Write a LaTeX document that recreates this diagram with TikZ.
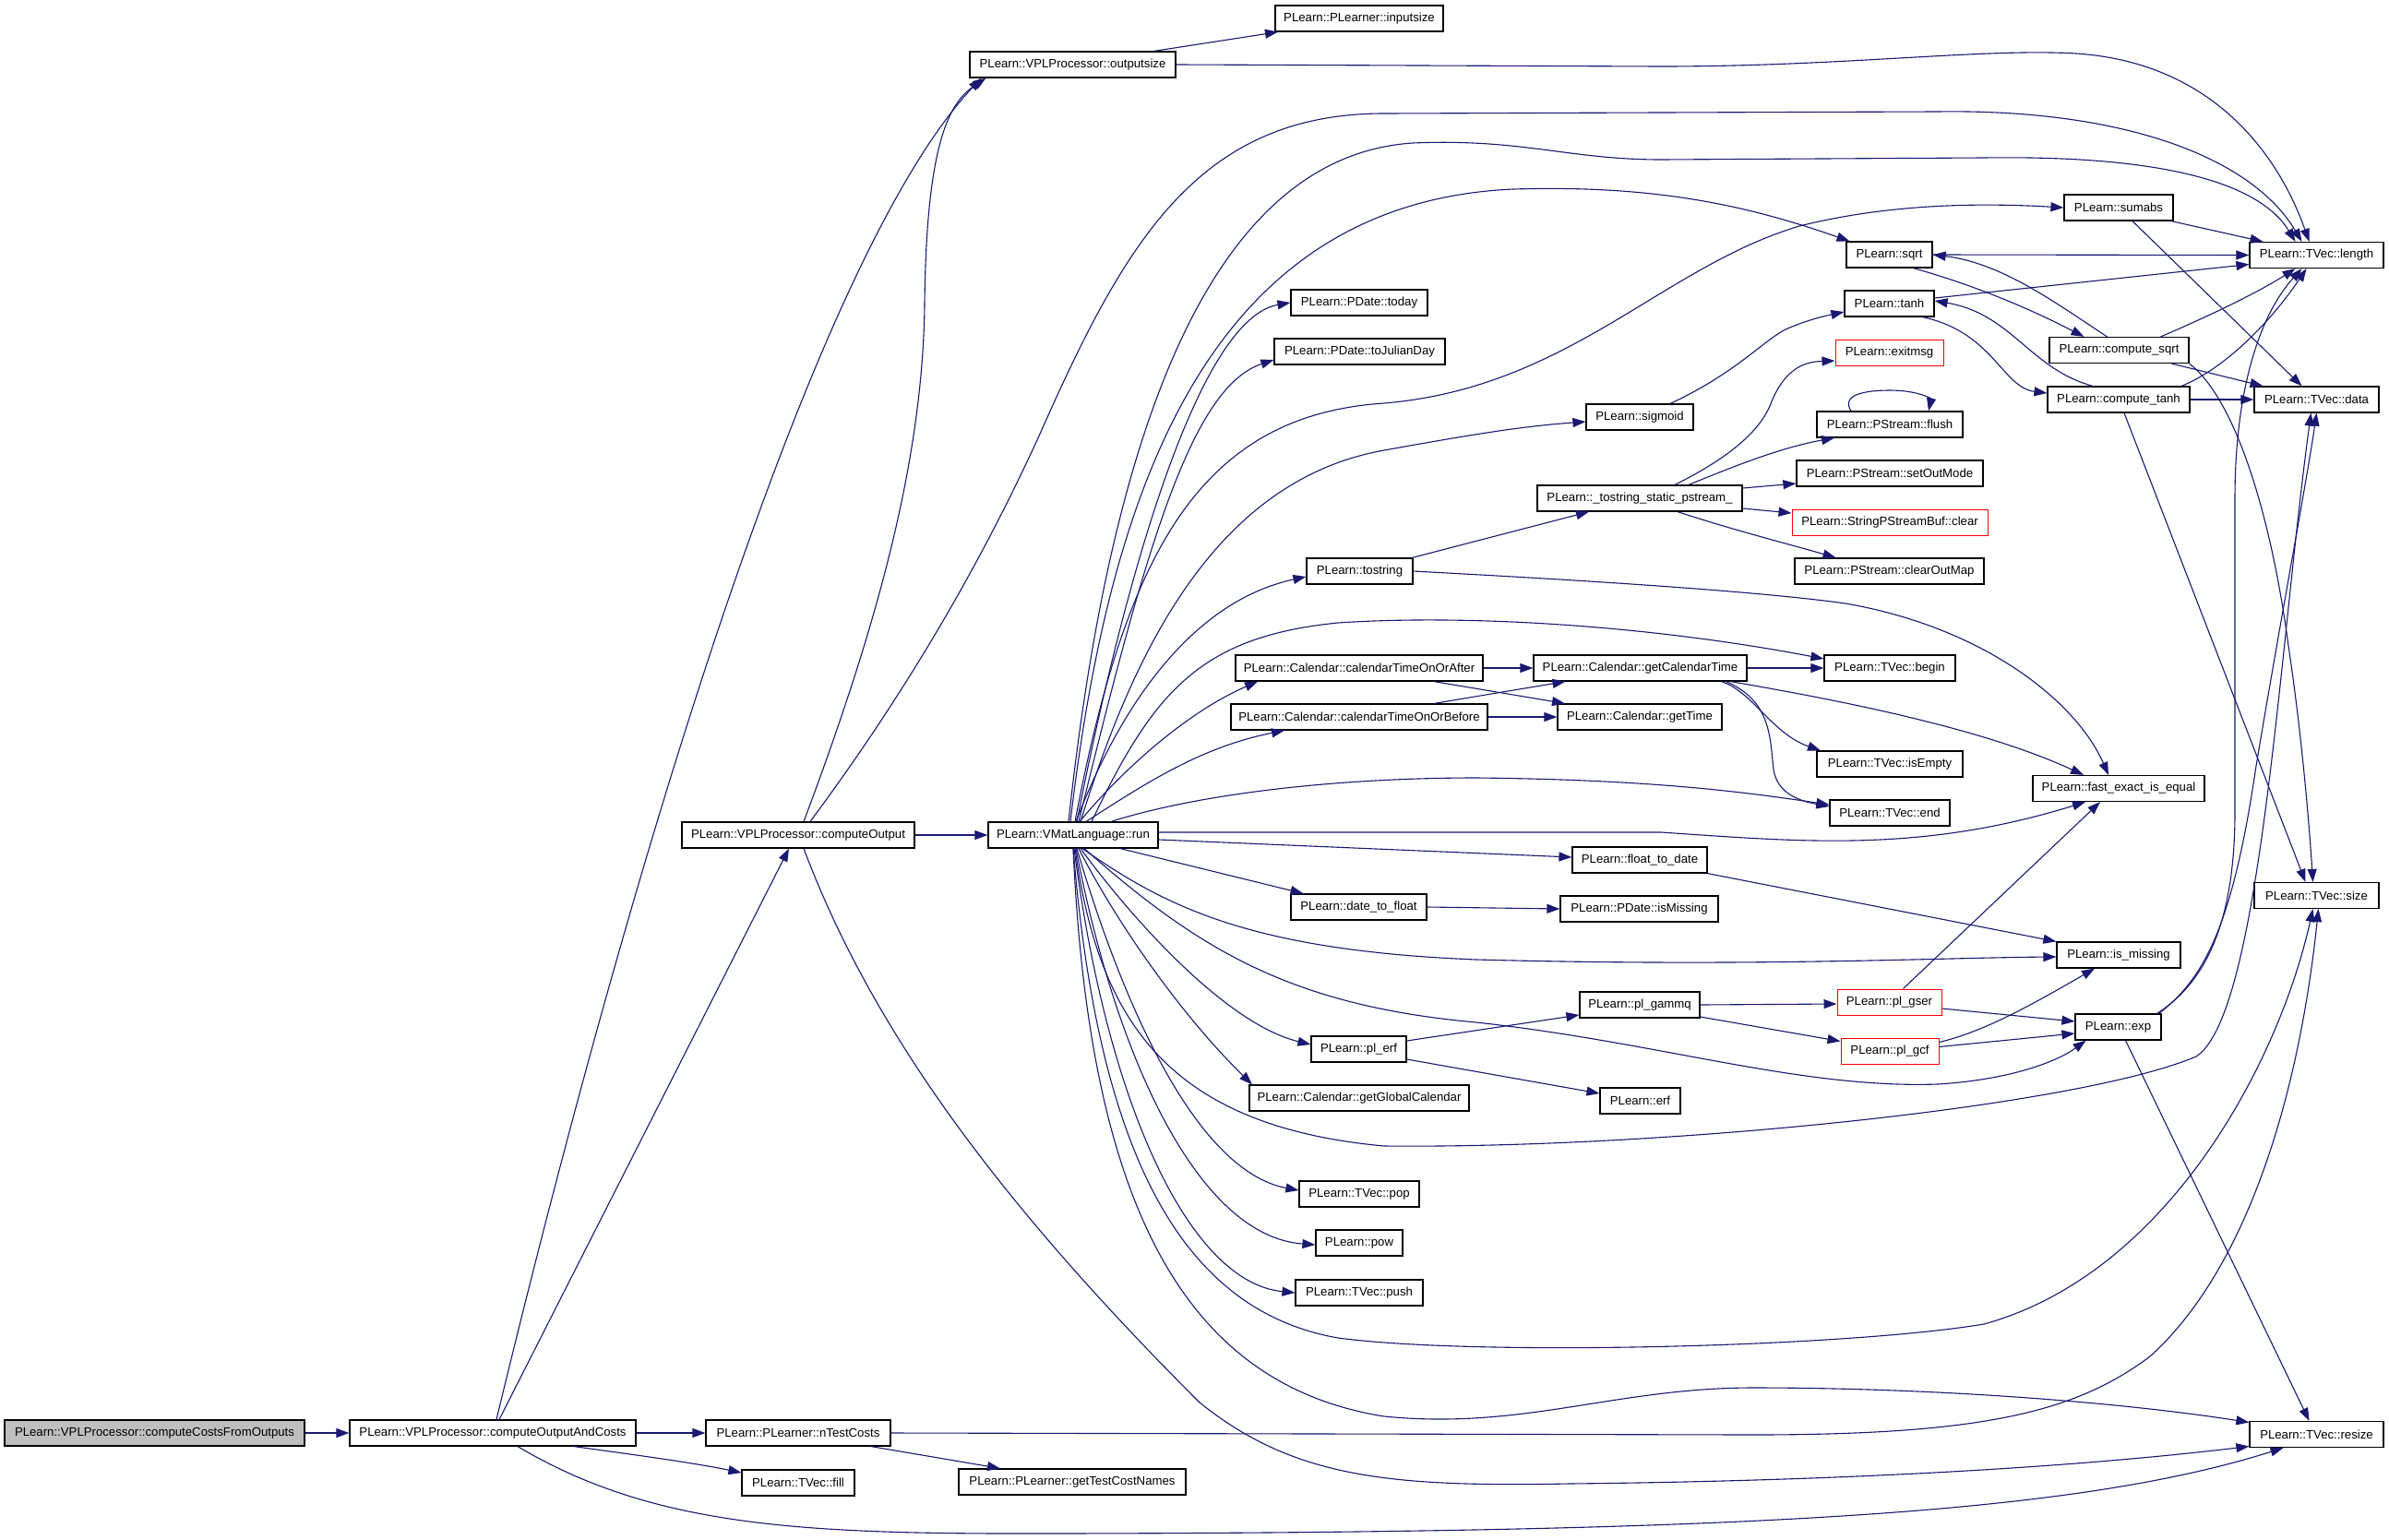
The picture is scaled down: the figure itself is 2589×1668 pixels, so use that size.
\documentclass[tikz,border=0pt]{standalone}
\usepackage{fontspec}
\setmainfont{Liberation Sans}
\usetikzlibrary{arrows.meta}
\definecolor{edgec}{RGB}{25,25,112}
\definecolor{rootgray}{RGB}{191,191,191}
\begin{document}
\begin{tikzpicture}[x=1pt,y=-1pt,
  box/.style={draw=black, line width=1.2pt, fill=white, minimum height=28pt, inner sep=0pt,
    font=\fontsize{13.2pt}{15pt}\selectfont},
  redbox/.style={box, draw=red, line width=1pt},
  edge/.style={draw=edgec, line width=1.1pt, -{Triangle[length=14pt,width=10pt]}}]
\fill[white] (0,0) rectangle (2589,1668);
\useasboundingbox (0,0) rectangle (2589,1668);
% nodes
\node[box,fill=rootgray,minimum width=325pt] (cCFO) at (167.5,1553) {PLearn::VPLProcessor::computeCostsFromOutputs};
\node[box,minimum width=310pt] (cOAC) at (534,1553) {PLearn::VPLProcessor::computeOutputAndCosts};
\node[box,minimum width=200pt] (nTC) at (865,1553) {PLearn::PLearner::nTestCosts};
\node[box,minimum width=122pt] (tfill) at (865,1607) {PLearn::TVec::fill};
\node[box,minimum width=246pt] (gTCN) at (1162,1606) {PLearn::PLearner::getTestCostNames};
\node[box,minimum width=252pt] (cO) at (865,905) {PLearn::VPLProcessor::computeOutput};
\node[box,minimum width=223pt] (osz) at (1162.5,70) {PLearn::VPLProcessor::outputsize};
\node[box,minimum width=182pt] (isz) at (1473,20) {PLearn::PLearner::inputsize};
\node[box,minimum width=184pt] (run) at (1163,905) {PLearn::VMatLanguage::run};
\node[box,minimum width=148pt] (today) at (1473,328) {PLearn::PDate::today};
\node[box,minimum width=185pt] (julian) at (1473.5,381) {PLearn::PDate::toJulianDay};
\node[box,minimum width=116pt] (sigm) at (1777,452) {PLearn::sigmoid};
\node[box,minimum width=222pt] (tss) at (1777,540) {PLearn::\_tostring\_static\_pstream\_};
\node[box,minimum width=115pt] (tostr) at (1473.5,619) {PLearn::tostring};
\node[box,minimum width=268pt] (calA) at (1473,724) {PLearn::Calendar::calendarTimeOnOrAfter};
\node[box,minimum width=278pt] (calB) at (1473,777) {PLearn::Calendar::calendarTimeOnOrBefore};
\node[box,minimum width=231pt] (gct) at (1777.5,724) {PLearn::Calendar::getCalendarTime};
\node[box,minimum width=178pt] (gtime) at (1777,777) {PLearn::Calendar::getTime};
\node[box,minimum width=142pt] (tbegin) at (2048,724) {PLearn::TVec::begin};
\node[box,minimum width=158pt] (tempty) at (2048,828) {PLearn::TVec::isEmpty};
\node[box,minimum width=130pt] (tend) at (2048,881) {PLearn::TVec::end};
\node[box,minimum width=186pt] (feq) at (2296,854.5) {PLearn::fast\_exact\_is\_equal};
\node[box,minimum width=146pt] (f2d) at (1777,932) {PLearn::float\_to\_date};
\node[box,minimum width=147pt] (d2f) at (1472.5,983) {PLearn::date\_to\_float};
\node[box,minimum width=171pt] (pdmiss) at (1776.5,985) {PLearn::PDate::isMissing};
\node[box,minimum width=134pt] (ismiss) at (2296,1035) {PLearn::is\_missing};
\node[box,minimum width=130pt] (gammq) at (1777,1089) {PLearn::pl\_gammq};
\node[redbox,minimum width=113pt] (gser) at (2047.5,1086) {PLearn::pl\_gser};
\node[redbox,minimum width=106pt] (gcf) at (2048,1139.5) {PLearn::pl\_gcf};
\node[box,minimum width=93pt] (pexp) at (2295.5,1113) {PLearn::exp};
\node[box,minimum width=103pt] (perf) at (1472.5,1137) {PLearn::pl\_erf};
\node[box,minimum width=87pt] (erf) at (1777.5,1193) {PLearn::erf};
\node[box,minimum width=238pt] (ggc) at (1473,1190) {PLearn::Calendar::getGlobalCalendar};
\node[box,minimum width=130pt] (tpop) at (1473,1294) {PLearn::TVec::pop};
\node[box,minimum width=94pt] (ppow) at (1473,1347) {PLearn::pow};
\node[box,minimum width=138pt] (tpush) at (1473,1401) {PLearn::TVec::push};
\node[box,minimum width=118pt] (sumabs) at (2296,225) {PLearn::sumabs};
\node[box,minimum width=93pt] (psqrt) at (2047.5,276) {PLearn::sqrt};
\node[box,minimum width=97pt] (ptanh) at (2047.5,329) {PLearn::tanh};
\node[redbox,minimum width=117pt] (exitmsg) at (2047.5,382) {PLearn::exitmsg};
\node[box,minimum width=158pt] (flush) at (2048,460) {PLearn::PStream::flush};
\node[box,minimum width=202pt] (setom) at (2048,513) {PLearn::PStream::setOutMode};
\node[redbox,minimum width=212pt] (spsb) at (2048,566) {PLearn::StringPStreamBuf::clear};
\node[box,minimum width=205pt] (clrmap) at (2047.5,619) {PLearn::PStream::clearOutMap};
\node[box,minimum width=151pt] (csqrt) at (2296.5,379.5) {PLearn::compute\_sqrt};
\node[box,minimum width=154pt] (ctanh) at (2296,433) {PLearn::compute\_tanh};
\node[box,minimum width=145pt] (tlen) at (2510.5,276.5) {PLearn::TVec::length};
\node[box,minimum width=135pt] (tdata) at (2510.5,433) {PLearn::TVec::data};
\node[box,minimum width=135pt] (tsize) at (2510.5,970.5) {PLearn::TVec::size};
\node[box,minimum width=145pt] (tresize) at (2510.5,1554.5) {PLearn::TVec::resize};
% edges
\draw[edge] (cCFO.east) -- (cOAC.west);
\draw[edge] ([xshift=4pt]cOAC.north) .. controls (680,950) and (880,280) .. ([xshift=-99pt]osz.south);
\draw[edge] ([xshift=7pt]cOAC.north) -- ([xshift=-10pt]cO.south);
\draw[edge] (cOAC.east) -- (nTC.west);
\draw[edge] ([xshift=88pt]cOAC.south) .. controls (690,1577) and (750,1585) .. ([yshift=11pt]tfill.west);
\draw[edge] ([xshift=27pt]cOAC.south) .. controls (700,1650) and (850,1662) .. (1100,1662) .. controls (1900,1662) and (2250,1640) .. ([xshift=-36pt]tresize.south);
\draw[edge] ([xshift=6pt]cO.north) .. controls (950,680) and (1000,500) .. (1002,330) .. controls (1004,150) and (1030,110) .. ([xshift=-94pt]osz.south);
\draw[edge] ([xshift=13pt]cO.north) .. controls (960,780) and (1050,640) .. (1128,468) .. controls (1220,260) and (1300,123) .. (1500,123) -- (2100,121) .. controls (2300,118) and (2440,170) .. ([xshift=-16pt]tlen.north);
\draw[edge] ([xshift=88pt]osz.north) -- ([xshift=-88pt]isz.south);
\draw[edge] (osz.east) -- (1800,72) .. controls (2000,72) and (2150,52) .. (2250,58) .. controls (2400,68) and (2470,170) .. ([xshift=-8pt]tlen.north);
\draw[edge] (cO.east) -- (run.west);
% from run, upward
\draw[edge] ([xshift=-5pt]run.north) .. controls (1200,500) and (1300,170) .. (1531,155) .. controls (1650,150) and (1700,173) .. (1800,173) -- (2150,171) .. controls (2350,168) and (2450,200) .. ([xshift=-23pt]tlen.north);
\draw[edge] ([xshift=-3pt]run.north) .. controls (1200,550) and (1300,220) .. (1640,205) .. controls (1800,200) and (1900,225) .. ([xshift=-43pt]psqrt.north);
\draw[edge] ([xshift=2pt]run.north) .. controls (1220,600) and (1300,450) .. (1500,437) .. controls (1700,420) and (1800,290) .. (1950,245) .. controls (2050,220) and (2150,220) .. (sumabs.west);
\draw[edge] ([xshift=4pt]run.north) .. controls (1220,620) and (1300,345) .. (today.west);
\draw[edge] ([xshift=6pt]run.north) .. controls (1240,600) and (1290,420) .. ([yshift=-9pt]julian.west);
\draw[edge] ([xshift=8pt]run.north) .. controls (1230,700) and (1320,520) .. (1500,488) .. controls (1600,470) and (1650,462) .. ([yshift=-5pt]sigm.west);
\draw[edge] ([xshift=3pt]run.north) .. controls (1220,750) and (1300,650) .. ([yshift=-6pt]tostr.west);
\draw[edge] ([xshift=20pt]run.north) .. controls (1250,750) and (1300,690) .. (1450,675) .. controls (1600,665) and (1800,680) .. ([yshift=10pt]tbegin.west);
\draw[edge] ([xshift=7pt]run.north) .. controls (1220,830) and (1290,770) .. ([xshift=-110pt]calA.south);
\draw[edge] ([xshift=14pt]run.north) .. controls (1240,850) and (1300,810) .. ([xshift=-81pt]calB.south);
\draw[edge] ([xshift=41pt]run.north) .. controls (1300,860) and (1450,843) .. (1600,843) .. controls (1800,845) and (1900,860) .. ([yshift=9pt]tend.west);
% from run, rightward
\draw[edge] ([yshift=3pt]run.east) -- (1800,902) .. controls (1950,912) and (2080,925) .. ([xshift=-36pt]feq.south);
\draw[edge] ([yshift=-5pt]run.east) -- ([yshift=3pt]f2d.west);
% from run, downward
\draw[edge] ([xshift=51pt]run.south) -- ([xshift=-60pt]d2f.north);
\draw[edge] ([xshift=10pt]run.south) .. controls (1260,980) and (1350,1030) .. (1600,1040) .. controls (1900,1048) and (2100,1038) .. ([yshift=-2pt]ismiss.west);
\draw[edge] ([xshift=12pt]run.south) .. controls (1300,1030) and (1400,1090) .. (1600,1108) .. controls (1800,1130) and (1950,1180) .. (2100,1175) .. controls (2180,1170) and (2230,1150) .. ([xshift=-35pt]pexp.south);
\draw[edge] ([xshift=8pt]run.south) .. controls (1230,1000) and (1330,1110) .. ([yshift=5pt]perf.west);
\draw[edge] ([xshift=6pt]run.south) .. controls (1210,1000) and (1280,1100) .. ([xshift=-116pt]ggc.north);
\draw[edge] ([xshift=2pt]run.south) .. controls (1190,1100) and (1260,1220) .. (1500,1242) .. controls (1800,1245) and (2250,1200) .. (2380,1145) .. controls (2450,1100) and (2470,700) .. ([xshift=-6pt]tdata.south);
\draw[edge] ([xshift=4pt]run.south) .. controls (1220,1100) and (1300,1270) .. ([yshift=4pt]tpop.west);
\draw[edge] ([xshift=3pt]run.south) .. controls (1210,1150) and (1300,1340) .. ([yshift=-2pt]ppow.west);
\draw[edge] ([xshift=1pt]run.south) .. controls (1200,1200) and (1290,1390) .. (tpush.west);
\draw[edge] (run.south) .. controls (1190,1250) and (1280,1420) .. (1450,1450) .. controls (1600,1470) and (2000,1460) .. (2150,1435) .. controls (2350,1380) and (2470,1150) .. ([xshift=-4pt]tsize.south);
\draw[edge] (run.south) .. controls (1180,1300) and (1280,1500) .. (1500,1535) .. controls (1650,1550) and (1750,1504) .. (1900,1504) .. controls (2100,1504) and (2300,1520) .. ([yshift=13pt]tresize.west);
\draw[edge] ([xshift=6pt]cO.south) .. controls (950,1130) and (1100,1320) .. (1300,1520) .. controls (1400,1600) and (1500,1612) .. (1700,1608) .. controls (2000,1605) and (2250,1590) .. ([yshift=-13pt]tresize.west);
\draw[edge] (nTC.east) -- (1900,1555) .. controls (2150,1555) and (2250,1530) .. (2330,1470) .. controls (2430,1380) and (2490,1200) .. ([xshift=2pt]tsize.south);
\draw[edge] ([xshift=79pt]nTC.south) -- ([xshift=-78pt]gTCN.north);
% math helpers
\draw[edge] ([xshift=57pt]sumabs.south) -- ([xshift=-58pt]tlen.north);
\draw[edge] ([xshift=15pt]sumabs.south) -- ([xshift=-16pt]tdata.north);
\draw[edge] (psqrt.east) -- (tlen.west);
\draw[edge] ([xshift=26pt]psqrt.south) .. controls (2150,312) and (2210,340) .. ([xshift=-38pt]csqrt.north);
\draw[edge] ([xshift=-13pt]csqrt.north) .. controls (2230,330) and (2170,285) .. (psqrt.east);
\draw[edge] ([yshift=6pt]ptanh.east) -- ([yshift=-10pt]tlen.west);
\draw[edge] ([xshift=36pt]ptanh.south) .. controls (2160,360) and (2170,420) .. ([yshift=7pt]ctanh.west);
\draw[edge] ([xshift=-28pt]ctanh.north) .. controls (2200,400) and (2180,340) .. ([yshift=3pt]ptanh.east);
\draw[edge] ([xshift=45pt]csqrt.north) .. controls (2400,340) and (2450,315) .. ([xshift=-23pt]tlen.south);
\draw[edge] ([xshift=57pt]csqrt.south) -- ([xshift=-58pt]tdata.north);
\draw[edge] (csqrt.south east) .. controls (2420,430) and (2460,550) .. (2480,700) .. controls (2495,800) and (2503,900) .. ([xshift=-4pt]tsize.north);
\draw[edge] ([xshift=68pt]ctanh.north) .. controls (2410,400) and (2460,350) .. ([xshift=-11pt]tlen.south);
\draw[edge] (ctanh.east) -- (tdata.west);
\draw[edge] ([xshift=6pt]ctanh.south) -- ([xshift=-12pt]tsize.north);
% tostring static
\draw[edge] ([xshift=38pt]tss.north) .. controls (1870,498) and (1905,470) .. (1918,440) .. controls (1935,395) and (1960,392) .. ([yshift=-9pt]exitmsg.west);
\draw[edge] ([xshift=53pt]tss.north) .. controls (1880,505) and (1930,485) .. ([xshift=-60pt]flush.south);
\draw[edge] ([yshift=11pt]tss.east) -- ([yshift=-11pt]setom.west);
\draw[edge] ([yshift=-11pt]tss.east) -- ([yshift=10pt]spsb.west);
\draw[edge] ([xshift=41pt]tss.south) .. controls (1880,575) and (1940,590) .. ([xshift=-58pt]clrmap.north);
\draw[edge] ([xshift=-42pt]flush.north) .. controls (1995,428) and (2020,423) .. (2048,423) .. controls (2078,423) and (2093,432) .. ([xshift=42pt]flush.north);
\draw[edge] ([xshift=33pt]sigm.north) .. controls (1880,405) and (1910,370) .. (1935,357) .. controls (1960,346) and (1980,342) .. ([yshift=-9pt]ptanh.west);
\draw[edge] ([xshift=57pt]tostr.north) -- ([xshift=-55pt]tss.south);
\draw[edge] (tostr.east) .. controls (1700,628) and (1900,640) .. (2000,654) .. controls (2150,680) and (2250,760) .. ([xshift=-11pt]feq.north);
% calendar
\draw[edge] (calA.east) -- (gct.west);
\draw[edge] ([xshift=81pt]calA.south) -- ([xshift=-81pt]gtime.north);
\draw[edge] ([xshift=81pt]calB.north) -- ([xshift=-81pt]gct.south);
\draw[edge] (calB.east) -- (gtime.west);
\draw[edge] (gct.east) -- (tbegin.west);
\draw[edge] ([xshift=88pt]gct.south) .. controls (1900,750) and (1920,795) .. ([xshift=-75pt]tempty.north);
\draw[edge] ([xshift=93pt]gct.south) .. controls (1920,760) and (1918,800) .. (1922,834) .. controls (1926,860) and (1950,868) .. ([yshift=7pt]tend.west);
\draw[edge] ([xshift=98pt]gct.south) .. controls (2000,760) and (2150,790) .. ([xshift=-38pt]feq.north);
% dates and gamma
\draw[edge] (f2d.south east) -- (ismiss.north west);
\draw[edge] (d2f.east) -- (pdmiss.west);
\draw[edge] ([yshift=9pt]perf.east) -- ([yshift=-11pt]gammq.west);
\draw[edge] ([yshift=-11pt]perf.east) -- ([yshift=8pt]erf.west);
\draw[edge] (gammq.east) -- ([yshift=-2pt]gser.west);
\draw[edge] ([yshift=-13pt]gammq.east) -- ([yshift=11pt]gcf.west);
\draw[edge] ([xshift=15pt]gser.north) -- ([xshift=-20pt]feq.south);
\draw[edge] ([yshift=-7pt]gser.east) -- ([yshift=6pt]pexp.west);
\draw[edge] ([yshift=10pt]gcf.east) .. controls (2150,1118) and (2200,1090) .. ([xshift=-26pt]ismiss.south);
\draw[edge] ([yshift=5pt]gcf.east) -- ([yshift=-7pt]pexp.west);
% exp
\draw[edge] ([xshift=42pt]pexp.north) .. controls (2390,1065) and (2422,1000) .. (2422,880) -- (2422,540) .. controls (2422,420) and (2450,340) .. ([xshift=-16pt]tlen.south);
\draw[edge] ([xshift=44pt]pexp.north) .. controls (2390,1060) and (2420,1000) .. (2445,830) .. controls (2470,680) and (2500,520) .. (tdata.south);
\draw[edge] ([xshift=8pt]pexp.south) -- ([xshift=-8pt]tresize.north);
\end{tikzpicture}
\end{document}
